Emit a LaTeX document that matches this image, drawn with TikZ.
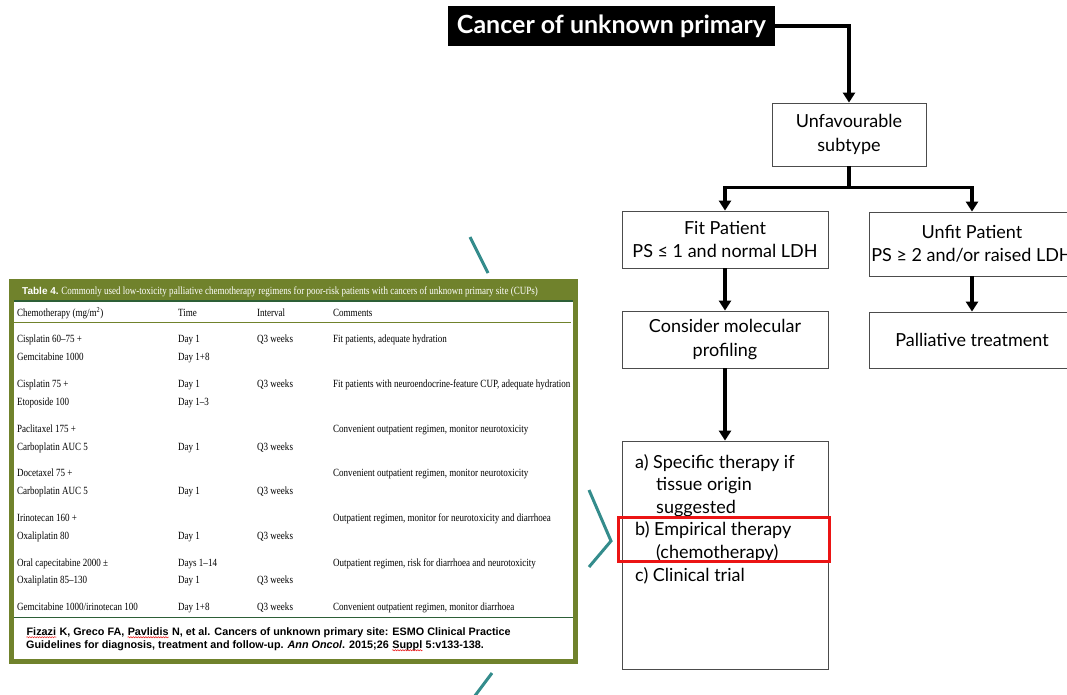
\documentclass[tikz,border=0pt]{standalone}
\usepackage{fontspec}
\usepackage{tikz}
\usetikzlibrary{arrows.meta,calc,positioning,decorations.pathmorphing}
\setmainfont{Lato}
\newfontfamily\tabfont[FakeStretch=0.82]{Liberation Serif}
\newfontfamily\citefont{Liberation Sans}
\definecolor{tabgreen}{RGB}{112,130,44}
\definecolor{tabdark}{RGB}{45,95,55}
\definecolor{calloutteal}{RGB}{52,140,140}
\definecolor{hired}{RGB}{235,20,20}
\newcommand{\spellwave}[1]{\tikz[baseline=(sw.base)]{\node[inner sep=0pt] (sw) {#1};
  \draw[hired, line width=0.5pt, decorate, decoration={snake, amplitude=0.6pt, segment length=2.5pt}]
    ([yshift=-2.2pt]sw.base west) -- ([yshift=-2.2pt]sw.base east);}}
\tikzset{
  box/.style={draw=black!70, line width=0.8pt, align=center, inner sep=0pt,
    minimum width=206pt, font=\fontsize{18}{23.5}\selectfont},
  flow/.style={line width=3.5pt, -{Triangle[width=12pt,length=10pt]}},
  tcell/.style={anchor=base west, inner sep=0pt, font=\tabfont\fontsize{11}{12}\selectfont},
  callout/.style={draw=calloutteal, line width=3pt},
  hilite/.style={draw=hired, line width=3pt}
}
\begin{document}
\begin{tikzpicture}[x=1pt, y=-1pt]
  \useasboundingbox (0,0) rectangle (1067,695);
  \clip (0,0) rectangle (1067,695);
  % flow chart
  \node[fill=black, text=white, inner sep=0pt, minimum width=327pt, minimum height=40pt,
    font=\bfseries\fontsize{25}{28}\selectfont] (cup) at (611.5,26) {Cancer of unknown primary};
  \node[box, minimum width=154pt, minimum height=63pt] (unfav) at (849,134.5) {Unfavourable\\subtype};
  \node[box, minimum height=57pt] (fit) at (725,239.5) {Fit Patient\\PS ≤ 1 and normal LDH};
  \node[box, minimum height=64pt] (unfit) at (972,244) {Unfit Patient\\PS ≥ 2 and/or raised LDH};
  \node[box, minimum height=57pt] (molec) at (725,339.5) {Consider molecular\\profiling};
  \node[box, minimum height=56pt] (palli) at (972,340) {Palliative treatment};
  \node[box, minimum height=228pt] (opts) at (725,555) {};
  \node[anchor=north west, align=left, inner sep=0pt, font=\fontsize{18}{22.6}\selectfont]
    (optstxt) at (635,454) {a) Specific therapy if\\\hspace*{21pt}tissue origin\\\hspace*{21pt}suggested\\
      b) Empirical therapy\\\hspace*{21pt}(chemotherapy)\\c) Clinical trial};
  \draw[hilite] (618,517) rectangle (829,561);
  % connectors
  \coordinate (split) at ($(unfav.south)+(0,21)$);
  \draw[flow] (cup.east) -| (unfav.north);
  \draw[line width=3.5pt] (unfav.south) -- (split);
  \draw[flow] (split) -| (fit.north);
  \draw[flow] (split) -| (unfit.north);
  \draw[flow] (fit.south) -- (molec.north);
  \draw[flow] (unfit.south) -- (palli.north);
  \draw[flow] (molec.south) -- (opts.north);
  % callout lines
  \draw[callout] (470,237) -- (488,273);
  \draw[callout] (492,673) -- (474,697);
  \draw[callout] (589,490) -- (611,541) -- (589,567);
  % table
  \fill[tabgreen] (9,279) rectangle (578,664);
  \fill[white] (14,302) rectangle (573,659);
  \draw[tabdark, line width=1.5pt] (14,301) -- (573,301);
  \node[anchor=base west, inner sep=0pt, text=white] (tabhead) at (22,294)
    {{\citefont\bfseries\fontsize{10}{12}\selectfont Table 4.}\ {\tabfont\fontsize{11}{12}\selectfont Commonly used low-toxicity palliative chemotherapy regimens for poor-risk patients with cancers of unknown primary site (CUPs)}};
  \node[tcell] (hchemo) at (17,316.5) {Chemotherapy (mg/m\textsuperscript{2})};
  \node[tcell] (htime) at (178,316.5) {Time};
  \node[tcell] (hintv) at (257,316.5) {Interval};
  \node[tcell] (hnote) at (333,316.5) {Comments};
  \draw[tabgreen, line width=1pt] (14,322.5) -- (571,322.5);
  \foreach \yy/\drug/\day/\intv/\note [count=\i] in {
    342/{Cisplatin 60–75 +}/{Day 1}/{Q3 weeks}/{Fit patients, adequate hydration},
    360/{Gemcitabine 1000}/{Day 1+8}/{}/{},
    387/{Cisplatin 75 +}/{Day 1}/{Q3 weeks}/{Fit patients with neuroendocrine-feature CUP, adequate hydration},
    405/{Etoposide 100}/{Day 1–3}/{}/{},
    432/{Paclitaxel 175 +}/{}/{}/{Convenient outpatient regimen, monitor neurotoxicity},
    450/{Carboplatin AUC 5}/{Day 1}/{Q3 weeks}/{},
    476.5/{Docetaxel 75 +}/{}/{}/{Convenient outpatient regimen, monitor neurotoxicity},
    494/{Carboplatin AUC 5}/{Day 1}/{Q3 weeks}/{},
    521/{Irinotecan 160 +}/{}/{}/{Outpatient regimen, monitor for neurotoxicity and diarrhoea},
    539/{Oxaliplatin 80}/{Day 1}/{Q3 weeks}/{},
    566/{Oral capecitabine 2000 ±}/{Days 1–14}/{}/{Outpatient regimen, risk for diarrhoea and neurotoxicity},
    583.5/{Oxaliplatin 85–130}/{Day 1}/{Q3 weeks}/{},
    610.5/{Gemcitabine 1000/irinotecan 100}/{Day 1+8}/{Q3 weeks}/{Convenient outpatient regimen, monitor diarrhoea}
  }{
    \node[tcell] (drug\i) at (17,\yy) {\drug};
    \node[tcell] (day\i) at (178,\yy) {\day};
    \node[tcell] (intv\i) at (257,\yy) {\intv};
    \node[tcell] (note\i) at (333,\yy) {\note};
  }
  \draw[tabdark, line width=1pt] (14,617.5) -- (573,617.5);
  \node[anchor=north west, align=left, inner sep=0pt, font=\citefont\bfseries\fontsize{10.8}{13}\selectfont]
    (cite) at (26,627) {\spellwave{Fizazi} K, Greco FA, \spellwave{Pavlidis} N, et al. Cancers of unknown primary site: ESMO Clinical Practice\\
      Guidelines for diagnosis, treatment and follow-up. \textit{Ann Oncol}. 2015;26 \spellwave{Suppl} 5:v133-138.};
\end{tikzpicture}
\end{document}
